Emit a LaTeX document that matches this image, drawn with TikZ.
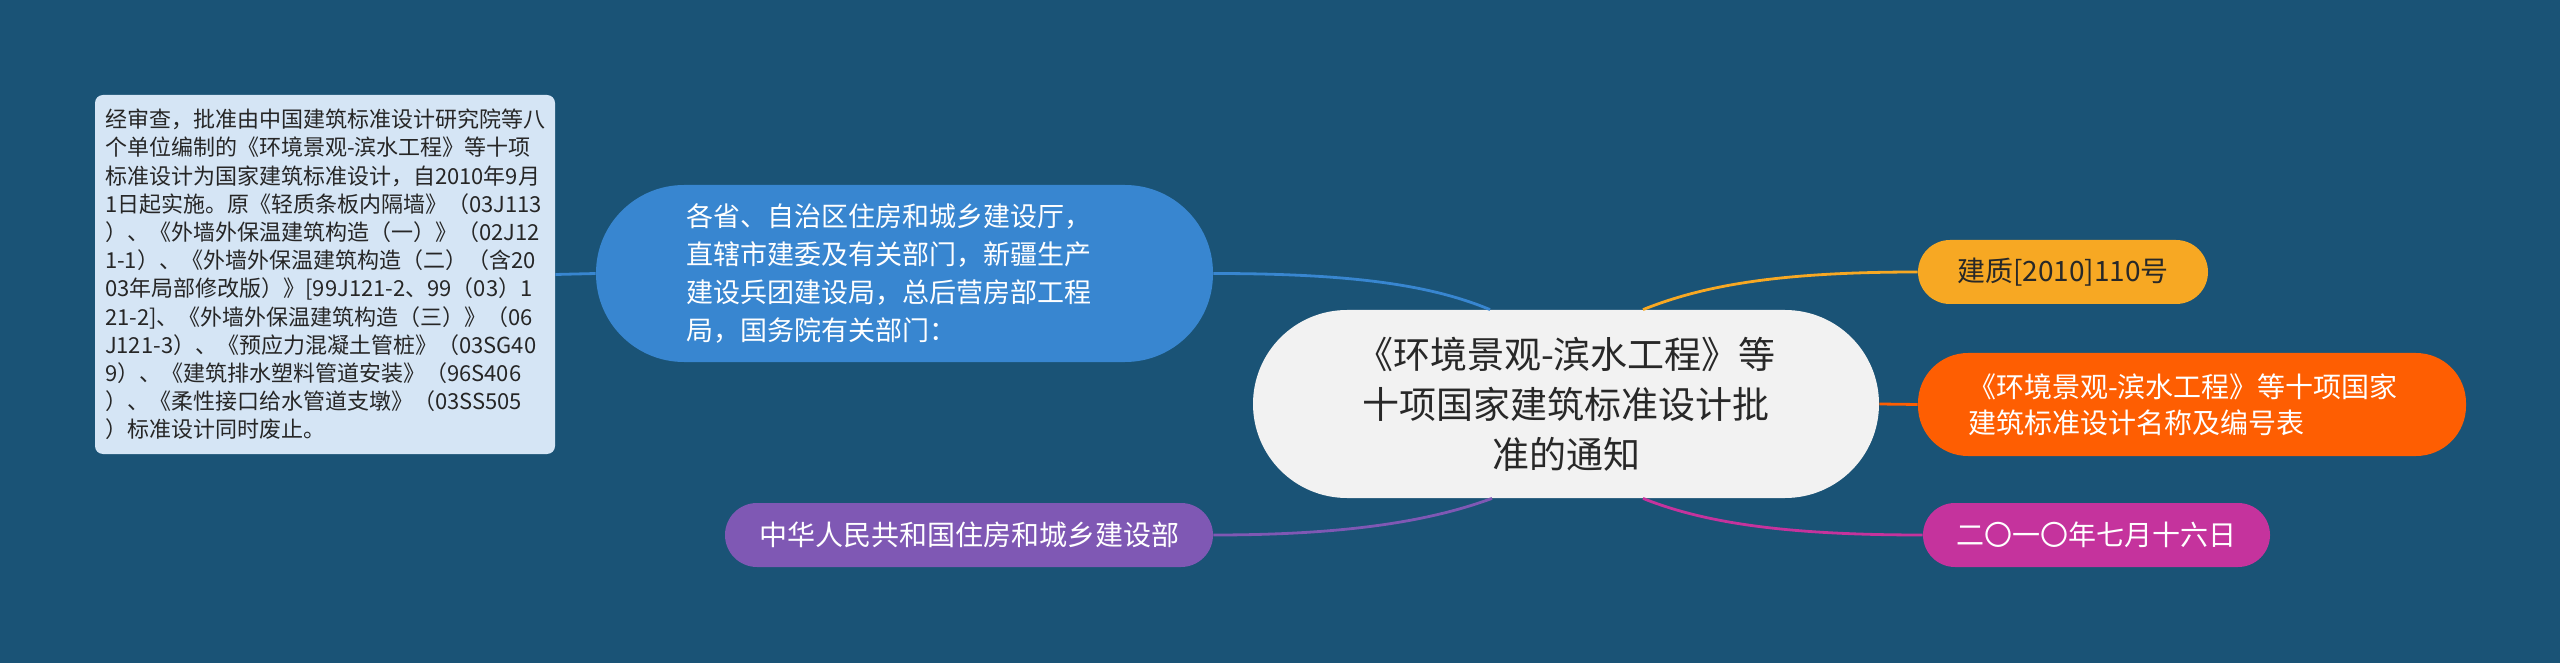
\documentclass[tikz,border=0pt]{standalone}
\usepackage{fontspec}
\setmainfont{Noto Sans CJK SC}
\usetikzlibrary{calc}
\usetikzlibrary{positioning}

\definecolor{bgblue}{RGB}{26,83,118}
\definecolor{hubgray}{RGB}{242,242,242}
\definecolor{hubtext}{RGB}{40,40,40}
\definecolor{recipblue}{RGB}{56,134,208}
\definecolor{noteblue}{RGB}{213,229,245}
\definecolor{issuerpurple}{RGB}{127,88,180}
\definecolor{docyellow}{RGB}{247,168,35}
\definecolor{planorange}{RGB}{254,94,2}
\definecolor{datemagenta}{RGB}{197,51,157}

\tikzset{
    branch/.style={draw=none, inner sep=0pt, minimum height=32pt,
        rounded corners=16pt, text=white,
        font={\fontsize{14}{18}\selectfont}},
    link/.style={line width=1.4pt}
}

\begin{document}
\begin{tikzpicture}[x=0.5pt,y=-0.5pt]
    \fill[bgblue] (0,0) rectangle (2560,663);
    \useasboundingbox (0,0) rectangle (2560,663);

    \node[fill=hubgray, text=hubtext, minimum width=313pt, minimum height=94pt,
        rounded corners=47pt, align=center, inner sep=0pt,
        font={\fontsize{18.5}{25}\selectfont}] (hub) at (1566,404)
        {《环境景观-滨水工程》等\\十项国家建筑标准设计批\\准的通知};

    \node[fill=recipblue, text=white, minimum width=308.5pt, minimum height=88.5pt,
        rounded corners=44pt, align=left, text width=218pt, inner sep=0pt,
        font={\fontsize{13.5}{19}\selectfont}] (recip) at (904.5,273.5)
        {各省、自治区住房和城乡建设厅，\\直辖市建委及有关部门，新疆生产\\建设兵团建设局，总后营房部工程\\局，国务院有关部门：};

    \node[fill=noteblue, text=black!85, minimum width=230pt, minimum height=179.5pt,
        rounded corners=4pt, align=left, inner sep=0pt,
        font={\fontsize{11}{14.1}\selectfont}] (note) at (325,274.5)
        {经审查，批准由中国建筑标准设计研究院等八\\个单位编制的《环境景观-滨水工程》等十项\\标准设计为国家建筑标准设计，自2010年9月\\1日起实施。原《轻质条板内隔墙》（03J113\\）、《外墙外保温建筑构造（一）》（02J12\\1-1）、《外墙外保温建筑构造（二）（含20\\03年局部修改版）》[99J121-2、99（03）1\\21-2]、《外墙外保温建筑构造（三）》（06\\J121-3）、《预应力混凝土管桩》（03SG40\\9）、《建筑排水塑料管道安装》（96S406\\）、《柔性接口给水管道支墩》（03SS505\\）标准设计同时废止。};

    \node[branch, fill=issuerpurple, minimum width=244pt] (issuer) at (969,535)
        {中华人民共和国住房和城乡建设部};

    \node[branch, fill=docyellow, text=hubtext, minimum width=145pt] (docno) at (2063,272)
        {建质[2010]110号};

    \node[branch, fill=planorange, minimum width=274pt, minimum height=51.5pt,
        rounded corners=25pt, align=left, text width=224pt] (plan) at (2192,404.5)
        {《环境景观-滨水工程》等十项国家\\建筑标准设计名称及编号表};

    \node[branch, fill=datemagenta, minimum width=173.5pt] (date) at (2096.5,535)
        {二〇一〇年七月十六日};

    \coordinate (hubNW) at ($(hub.north)+(-76,0)$);
    \coordinate (hubNE) at ($(hub.north)+(77,0)$);
    \coordinate (hubSW) at ($(hub.south)+(-74,0)$);
    \coordinate (hubSE) at ($(hub.south)+(77,0)$);

    \draw[link, recipblue] (note.east) -- (recip.west);
    \draw[link, recipblue] (recip.east) .. controls +(137,0) and +(-60,-25) .. (hubNW);
    \draw[link, issuerpurple] (issuer.east) .. controls +(137,0) and +(-60,22) .. (hubSW);
    \draw[link, docyellow] (hubNE) .. controls +(60,-24) and +(-140,0) .. (docno.west);
    \draw[link, planorange] (hub.east) -- (plan.west);
    \draw[link, datemagenta] (hubSE) .. controls +(60,24) and +(-140,0) .. (date.west);
\end{tikzpicture}
\end{document}
